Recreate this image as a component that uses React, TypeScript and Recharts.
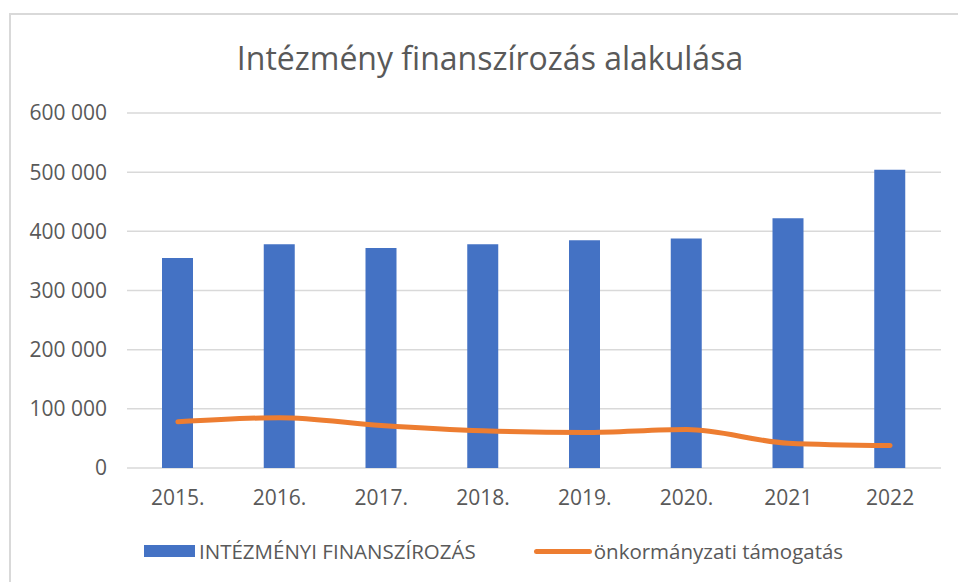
import React from "react";
import {
  ComposedChart,
  Bar,
  Line,
  XAxis,
  YAxis,
  CartesianGrid,
} from "recharts";

const years = ["2015.", "2016.", "2017.", "2018.", "2019.", "2020.", "2021", "2022"];
const intezmenyi = [355000, 378000, 372000, 378000, 385000, 388000, 422000, 504000];
const onkormanyzati = [78000, 85000, 72000, 63000, 60000, 65000, 42000, 38000];
const yTicks = [0, 100000, 200000, 300000, 400000, 500000, 600000];

const BAR_NAME = "INTÉZMÉNYI FINANSZÍROZÁS";
const LINE_NAME = "önkormányzati támogatás";

const data = years.map((year, i) => ({
  year,
  intezmenyi: intezmenyi[i],
  onkormanyzati: onkormanyzati[i],
}));

const FONT = "'Open Sans', sans-serif";
const TEXT = "#595959";

const fmt = (v: number) => String(v).replace(/\B(?=(\d{3})+(?!\d))/g, " ");

function ChartLegend() {
  return (
    <div
      style={{
        position: "absolute",
        left: 144,
        top: 537,
        display: "flex",
        alignItems: "center",
        fontFamily: FONT,
        fontSize: 20.5,
        color: TEXT,
        whiteSpace: "nowrap",
      }}
    >
      <span style={{ width: 51, height: 12, background: "#4472C4", display: "inline-block", marginRight: 4 }} />
      <span>{BAR_NAME}</span>
      <span
        style={{
          width: 58,
          height: 5,
          borderRadius: 3,
          background: "#ED7D31",
          display: "inline-block",
          marginLeft: 58,
          marginRight: 2,
        }}
      />
      <span>{LINE_NAME}</span>
    </div>
  );
}

export default function App() {
  return (
    <div style={{ position: "relative", width: 958, height: 582, overflow: "hidden", background: "#fff" }}>
      <style>{`body{margin:0}`}</style>
      <div
        style={{
          position: "absolute",
          left: 9,
          top: 13,
          width: 1000,
          height: 700,
          border: "2px solid #d9d9d9",
        }}
      />
      <div
        style={{
          position: "absolute",
          left: 0,
          width: 980,
          top: 36,
          textAlign: "center",
          fontFamily: FONT,
          fontSize: 32,
          color: TEXT,
          whiteSpace: "nowrap",
        }}
      >
        Intézmény finanszírozás alakulása
      </div>
      <div style={{ position: "absolute", left: 0, top: 0 }}>
        <ComposedChart
          width={958}
          height={582}
          data={data}
          margin={{ top: 113, right: 17, bottom: 84, left: 0 }}
          barCategoryGap="35%"
        >
          <CartesianGrid vertical={false} stroke="#d9d9d9" strokeWidth={1.5} />
          <XAxis
            dataKey="year"
            height={30}
            axisLine={false}
            tickLine={false}
            tickSize={0}
            tickMargin={22}
            tick={{ fill: TEXT, fontSize: 21, fontFamily: FONT }}
          />
          <YAxis
            width={127}
            domain={[0, 600000]}
            ticks={yTicks}
            tickFormatter={fmt}
            axisLine={false}
            tickLine={false}
            tickSize={0}
            tickMargin={20}
            tick={{ fill: TEXT, fontSize: 21, fontFamily: FONT }}
          />
          <Bar dataKey="intezmenyi" name={BAR_NAME} fill="#4472C4" barSize={31} isAnimationActive={false} />
          <Line
            dataKey="onkormanyzati"
            name={LINE_NAME}
            type="monotone"
            stroke="#ED7D31"
            strokeWidth={5}
            strokeLinecap="round"
            dot={false}
            isAnimationActive={false}
          />
        </ComposedChart>
      </div>
      <ChartLegend />
    </div>
  );
}
